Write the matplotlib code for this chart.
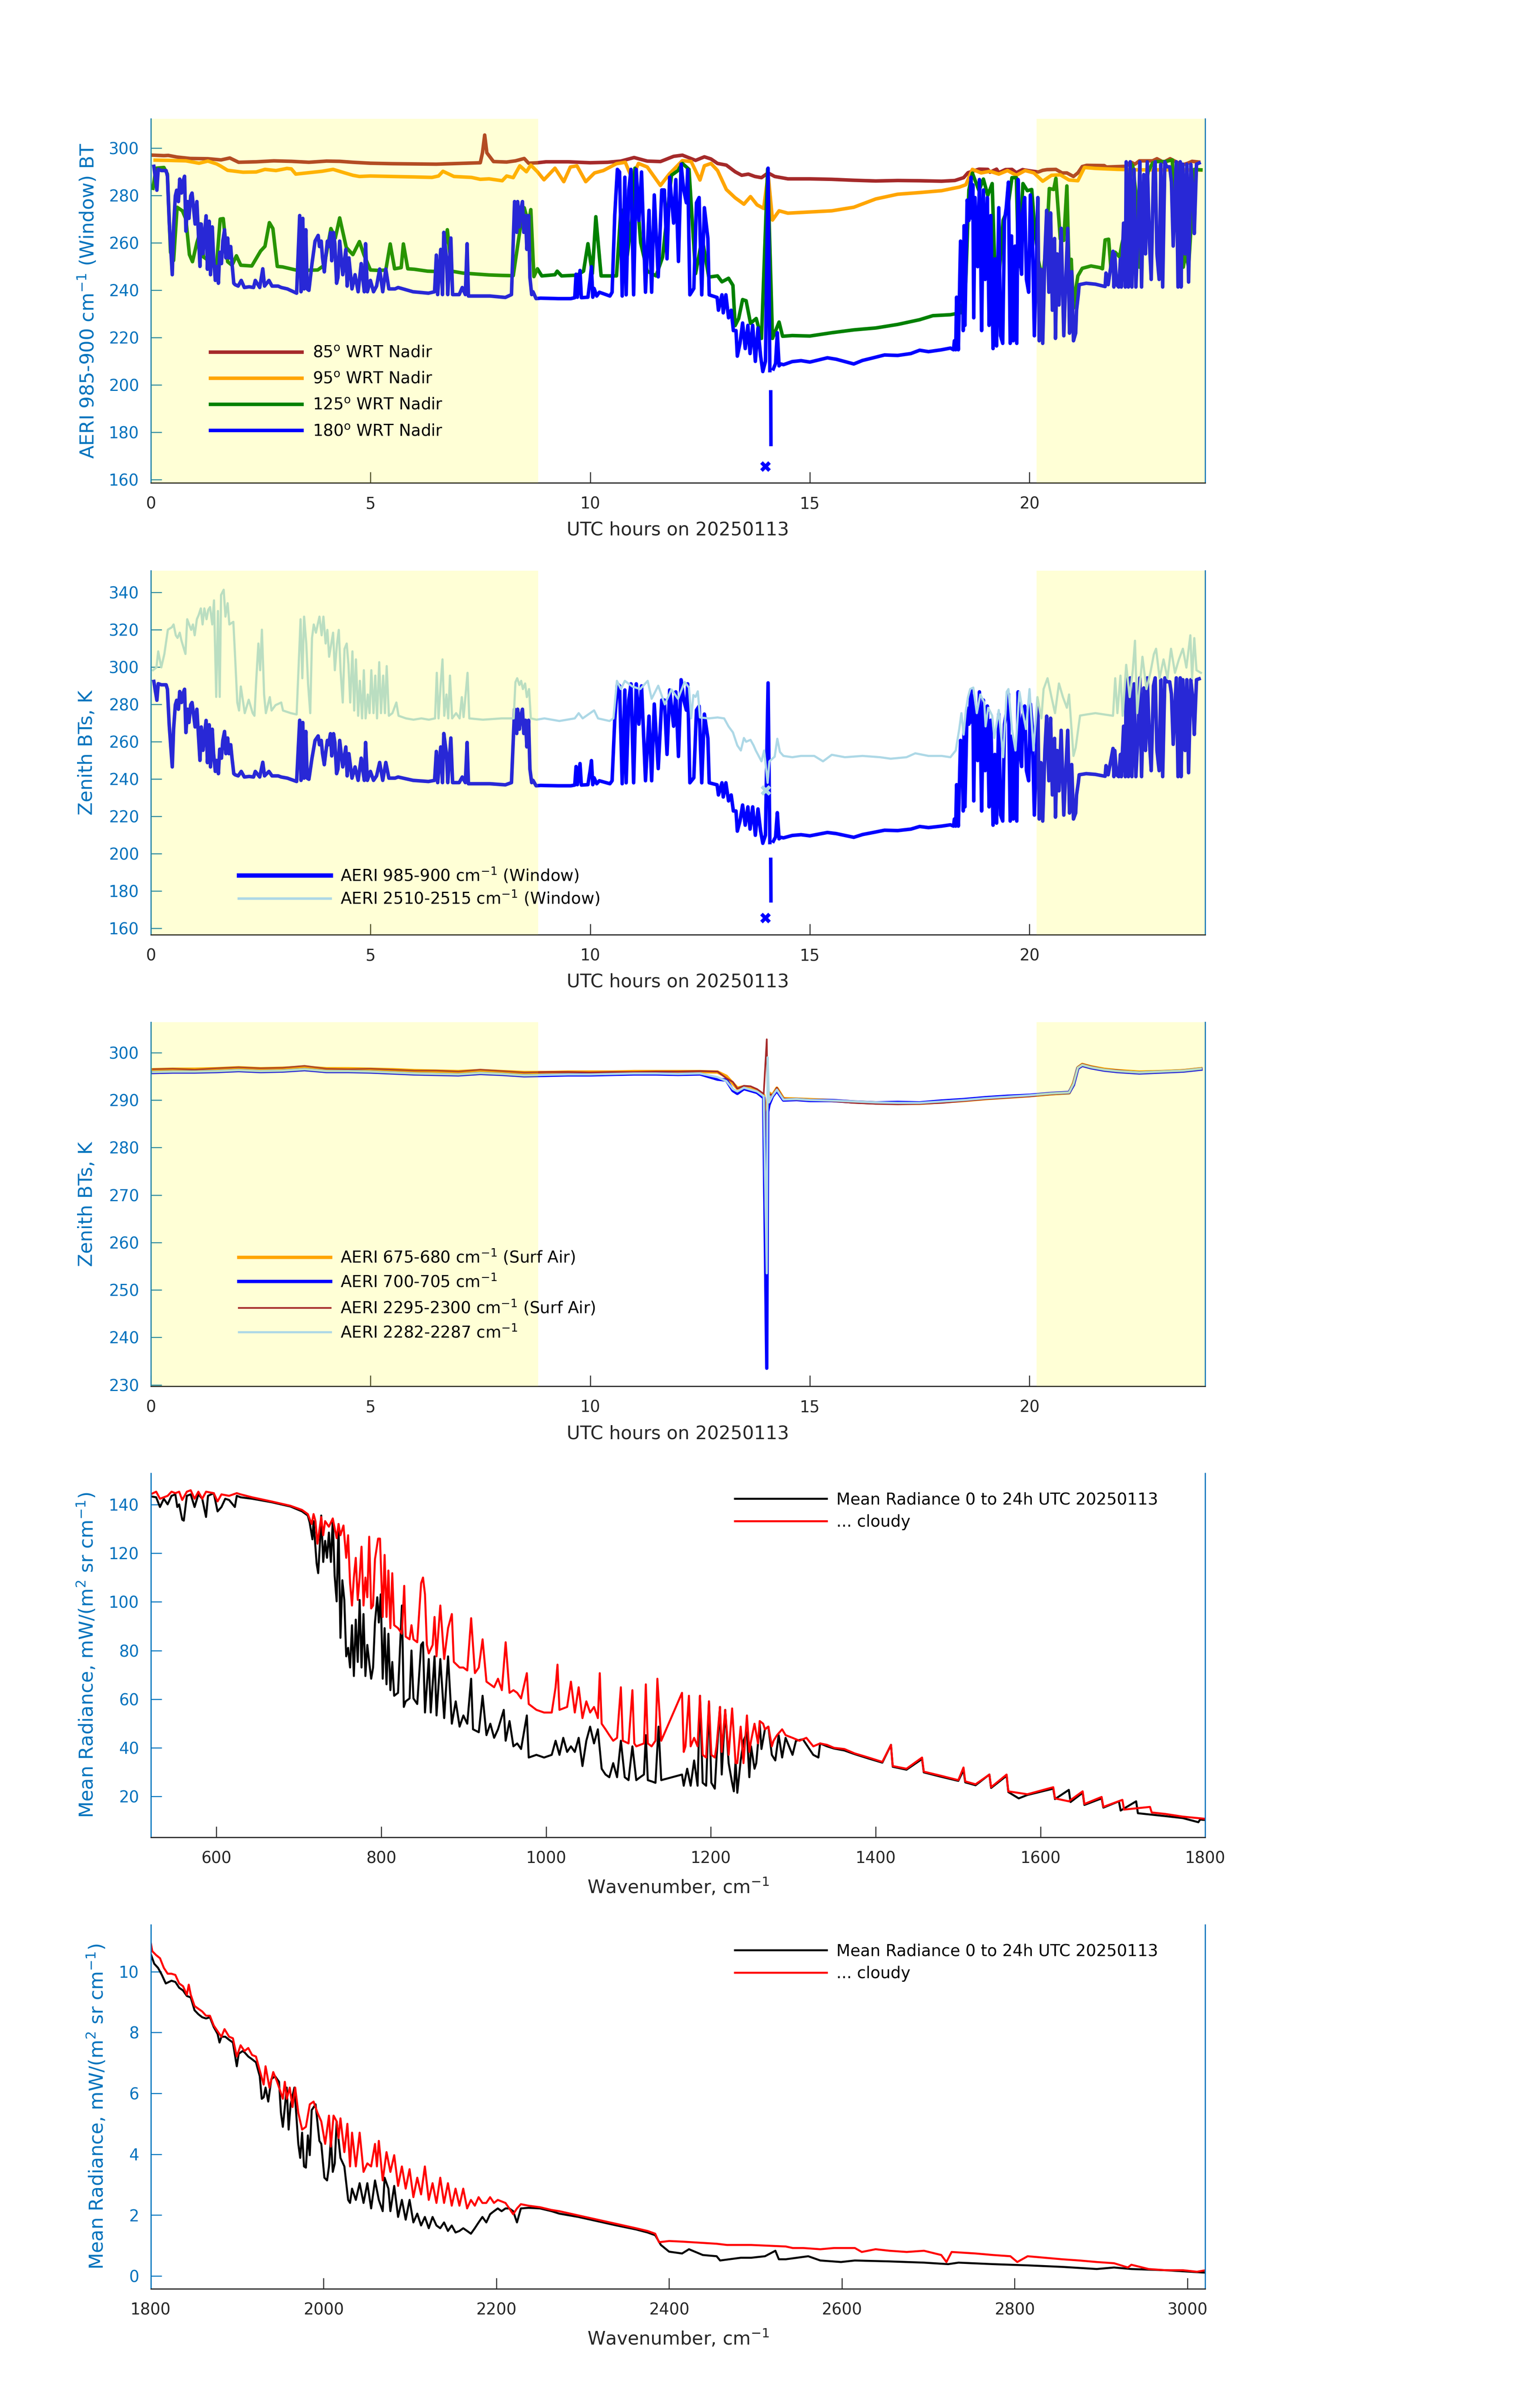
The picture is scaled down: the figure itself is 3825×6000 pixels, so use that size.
import numpy as np
import matplotlib
matplotlib.use('Agg')
import matplotlib.pyplot as plt

plt.rcParams['font.family'] = ['DejaVu Sans']
plt.rcParams['mathtext.default'] = 'regular'

nan = np.nan

# ---------------- data ----------------
# night (yellow) periods, UTC hours
night_spans = [(0.0, 8.82), (20.16, 24.0)]

# panel 1 : window BT at four scene angles (hour, K)
bt85 = [(0.05,297.0),(0.3,296.8),(0.4,296.9),(0.6,296.2),(0.9,295.6),(1.3,295.5),(1.6,295.0),(1.8,295.8),
        (2.0,294.0),(2.4,294.2),(2.8,294.6),(3.2,294.4),(3.6,294.0),(4.0,294.5),(4.3,294.4),(4.6,294.0),
        (5.0,293.6),(5.5,293.4),(6.0,293.3),(6.5,293.2),(7.0,293.5),(7.5,293.8),(7.55,298.0),(7.6,305.5),
        (7.65,298.0),(7.8,294.3),(8.1,294.1),(8.3,294.6),(8.5,295.6),(8.6,293.6),(8.8,293.8),(9.0,294.2),
        (9.5,294.2),(10.0,293.8),(10.4,294.0),(10.7,294.5),(11.0,296.0),(11.3,294.5),(11.6,294.3),(11.9,296.5),
        (12.1,297.0),(12.4,294.8),(12.6,296.3),(12.75,295.4),(12.9,293.5),(13.1,292.8),(13.3,290.0),(13.45,288.5),
        (13.6,289.0),(13.75,288.0),(13.9,287.5),(14.05,289.5),(14.2,288.0),(14.5,287.0),(15.0,287.0),(15.5,286.8),
        (16.0,286.4),(16.5,286.1),(17.0,286.3),(17.5,286.2),(18.0,286.0),(18.3,286.3),(18.5,287.5),(18.6,289.6),
        (18.85,291.1),(19.05,291.0),(19.1,289.8),(19.25,291.1),(19.3,289.6),(19.45,290.9),(19.6,291.0),(19.7,289.6),
        (19.84,290.9),(20.0,290.4),(20.2,289.9),(20.3,290.6),(20.4,290.9),(20.6,291.0),(20.74,289.5),(20.85,289.5),
        (21.0,288.0),(21.1,289.5),(21.2,292.2),(21.3,292.7),(21.7,292.6),(21.75,292.0),(22.2,292.3),(22.3,294.1),
        (22.4,293.2),(22.5,294.6),(22.8,294.6),(22.9,295.5),(23.05,294.0),(23.2,295.5),(23.4,293.6),(23.5,293.0),
        (23.6,293.6),(23.7,294.4),(23.85,294.1)]

bt95 = [(0.1,294.9),(0.4,294.8),(0.8,294.6),(1.1,293.6),(1.3,294.5),(1.5,293.3),(1.6,292.3),(1.75,290.6),
        (2.1,289.8),(2.4,289.9),(2.6,291.0),(2.85,290.5),(3.1,291.4),(3.2,291.2),(3.3,289.0),(3.5,289.4),
        (3.9,290.2),(4.15,291.0),(4.4,289.6),(4.6,288.5),(4.75,288.0),(5.0,288.2),(5.5,288.0),(6.0,287.8),
        (6.4,287.6),(6.55,288.2),(6.65,290.2),(6.9,288.0),(7.3,287.6),(7.5,286.8),(7.7,287.0),(8.0,286.2),
        (8.1,288.2),(8.25,287.5),(8.4,292.5),(8.55,290.0),(8.65,292.8),(8.8,290.0),(8.95,286.6),(9.2,291.5),
        (9.4,285.8),(9.55,292.0),(9.7,292.5),(9.9,285.8),(10.1,289.5),(10.3,290.5),(10.6,293.4),(10.8,294.0),
        (10.95,287.3),(11.1,293.5),(11.3,292.0),(11.6,284.2),(11.8,289.0),(12.1,294.7),(12.3,294.3),(12.5,286.5),
        (12.6,292.5),(12.75,293.5),(12.9,290.5),(13.1,282.5),(13.3,279.0),(13.5,276.3),(13.65,279.5),(13.8,276.0),
        (13.95,274.5),(14.05,289.0),(14.15,269.6),(14.3,273.5),(14.5,272.5),(15.0,273.0),(15.5,273.5),(16.0,275.0),
        (16.5,278.5),(17.0,280.5),(17.5,281.2),(18.0,282.0),(18.4,283.5),(18.55,284.5),(18.7,291.0),(18.9,289.5),
        (19.1,290.2),(19.3,289.0),(19.5,290.5),(19.7,288.5),(19.9,290.5),(20.1,289.5),(20.3,286.0),(20.5,288.5),
        (20.7,288.7),(20.9,286.5),(21.1,286.2),(21.25,291.8),(21.5,291.4),(22.0,291.0),(22.5,290.8),(23.0,290.8),
        (23.5,290.8),(23.9,290.7)]

bt125 = [(0.05,283.0),(0.12,291.5),(0.3,291.8),(0.38,289.0),(0.45,256.0),(0.52,252.5),(0.6,275.0),(0.72,273.5),
         (0.8,270.0),(0.88,255.0),(0.95,252.0),(1.05,260.0),(1.1,263.0),(1.13,268.0),(1.2,254.0),(1.35,252.0),
         (1.5,251.0),(1.58,270.0),(1.65,270.2),(1.75,252.0),(1.85,250.5),(1.95,254.5),(2.05,250.5),(2.3,250.2),
         (2.5,256.5),(2.6,258.5),(2.7,268.5),(2.78,266.0),(2.88,250.0),(3.0,249.8),(3.3,248.5),(3.6,248.4),
         (3.8,248.5),(3.95,250.5),(4.1,266.0),(4.2,262.0),(4.3,270.5),(4.45,258.0),(4.6,255.0),(4.75,260.5),
         (4.85,255.0),(5.0,248.5),(5.2,248.3),(5.35,248.5),(5.45,259.5),(5.55,249.0),(5.7,249.5),(5.75,259.5),
         (5.85,249.0),(6.0,248.8),(6.3,248.0),(6.6,247.8),(6.75,265.5),(6.85,248.0),(7.1,247.2),(7.4,246.8),
         (7.7,246.4),(8.0,246.2),(8.25,246.1),(8.4,265.0),(8.5,274.8),(8.6,268.0),(8.65,274.0),(8.72,245.7),
         (8.8,249.0),(8.9,246.0),(9.2,246.5),(9.25,248.0),(9.35,246.0),(9.7,246.3),(9.85,248.0),(9.95,259.6),
         (10.05,247.0),(10.13,271.0),(10.25,246.0),(10.6,246.0),(10.7,274.0),(10.8,248.0),(10.95,270.0),(11.02,291.5),
         (11.15,260.0),(11.3,248.0),(11.5,246.0),(11.65,254.0),(11.85,288.5),(12.0,290.5),(12.1,293.5),(12.25,291.0),
         (12.4,247.0),(12.55,262.0),(12.7,245.5),(12.9,246.0),(13.0,243.5),(13.15,245.0),(13.25,242.0),(13.3,225.0),
         (13.38,228.0),(13.47,236.0),(13.55,235.5),(13.65,226.0),(13.78,228.0),(13.9,219.6),(14.04,291.2),(14.15,219.6),
         (14.3,226.5),(14.38,220.5),(14.6,220.8),(15.0,220.6),(15.5,222.0),(16.0,223.2),(16.5,224.0),(17.0,225.5),
         (17.5,227.5),(17.8,229.2),(18.2,229.6),(18.45,230.5),(18.55,244.0),(18.62,282.3),(18.7,289.4),(18.85,282.0),
         (18.95,286.9),(19.05,280.0),(19.15,285.0),(19.2,255.0),(19.25,245.0),(19.3,244.0),(19.4,269.6),(19.5,274.0),
         (19.6,287.5),(19.7,287.5),(19.75,250.0),(19.85,285.0),(19.95,282.0),(20.05,282.5),(20.12,265.8),(20.2,252.7),
         (20.3,244.1),(20.4,264.0),(20.45,282.9),(20.55,282.5),(20.6,287.2),(20.7,261.6),(20.78,261.0),(20.85,284.0),
         (20.9,249.0),(20.95,253.0),(21.0,232.4),(21.05,240.0),(21.1,246.0),(21.2,249.2),(21.4,250.2),(21.6,249.5),
         (21.66,249.0),(21.72,261.2),(21.8,261.5),(21.85,249.7),(21.95,256.0),(22.05,254.0),(22.1,259.3),(22.2,267.0),
         (22.3,293.7),(22.35,292.5),(22.45,276.0),(22.5,249.7),(22.6,276.0),(22.7,290.0),(22.8,293.7),(22.9,294.3),
         (23.1,294.3),(23.25,295.0),(23.3,268.0),(23.35,293.0),(23.4,284.0),(23.5,249.7),(23.55,256.0),(23.62,249.7),
         (23.68,268.0),(23.75,291.0),(23.9,290.8)]

bt180 = [(0.07,292.3),(0.14,282.2),(0.17,291.1),(0.24,290.5),(0.35,290.5),(0.38,288.1),(0.42,269.1),(0.49,246.5),
         (0.52,266.7),(0.56,279.8),(0.59,282.2),(0.63,277.4),(0.66,286.9),(0.70,281.0),(0.73,285.7),(0.77,288.1),
         (0.80,264.9),(0.84,277.4),(0.87,270.3),(0.91,279.8),(0.94,281.0),(1.01,267.9),(1.05,277.4),(1.08,265.5),
         (1.12,250.0),(1.15,267.9),(1.19,255.4),(1.22,263.1),(1.26,271.4),(1.29,248.8),(1.33,269.1),(1.36,246.5),
         (1.40,266.7),(1.43,253.6),(1.47,244.1),(1.50,250.0),(1.54,242.9),(1.57,256.0),(1.61,251.2),(1.64,260.7),
         (1.68,265.5),(1.71,253.6),(1.75,262.0),(1.78,253.6),(1.82,258.4),(1.85,251.2),(1.89,242.9),(1.92,242.3),
         (1.99,241.7),(2.06,244.1),(2.13,241.1),(2.24,241.4),(2.34,241.1),(2.38,244.1),(2.48,241.1),(2.55,249.0),
         (2.59,241.7),(2.69,244.1),(2.76,241.7),(2.90,241.7),(2.97,241.1),(3.11,240.5),(3.32,238.7),(3.39,271.5),
         (3.42,239.3),(3.46,270.3),(3.49,240.5),(3.53,265.5),(3.56,240.5),(3.60,239.9),(3.67,251.2),(3.74,260.7),
         (3.81,263.1),(3.84,258.4),(3.88,260.7),(3.91,253.6),(3.95,247.7),(3.98,253.6),(4.02,260.7),(4.05,258.4),
         (4.09,264.3),(4.12,252.4),(4.16,264.3),(4.19,259.6),(4.23,242.9),(4.26,245.3),(4.30,260.7),(4.37,246.5),
         (4.44,257.2),(4.47,241.7),(4.51,253.6),(4.58,240.5),(4.65,246.5),(4.72,239.3),(4.79,251.2),(4.82,245.9),
         (4.86,239.3),(4.89,259.6),(4.93,239.3),(5.00,244.1),(5.07,239.3),(5.14,241.7),(5.21,248.9),(5.28,239.3),
         (5.35,248.9),(5.42,240.5),(5.56,240.5),(5.63,241.1),(5.97,239.3),(6.32,238.7),(6.46,239.3),(6.50,254.8),
         (6.53,238.1),(6.60,257.2),(6.64,238.1),(6.67,264.4),(6.73,253.6),(6.76,238.1),(6.83,262.0),(6.87,238.1),
         (7.02,238.1),(7.09,241.1),(7.16,238.1),(7.20,259.6),(7.23,237.5),(7.72,237.5),(8.07,236.9),(8.21,238.1),
         (8.28,277.4),(8.33,264.4),(8.35,277.4),(8.39,266.7),(8.42,273.9),(8.46,277.4),(8.49,264.4),(8.53,271.5),
         (8.56,257.2),(8.60,271.5),(8.63,245.3),(8.67,238.1),(8.70,239.3),(8.77,236.4),(8.87,236.6),(9.27,236.4),
         (9.56,236.4),(9.65,236.8),(9.68,246.7),(9.71,237.0),(9.77,248.3),(9.80,236.8),(9.95,237.0),(10.00,244.5),
         (10.03,249.9),(10.06,237.0),(10.09,240.7),(10.15,237.5),(10.21,239.1),(10.45,237.5),(10.50,239.1),(10.56,271.5),
         (10.62,291.0),(10.67,289.9),(10.73,237.5),(10.79,287.7),(10.82,238.0),(10.88,282.3),(10.93,291.0),(10.99,238.0),
         (11.05,291.0),(11.11,269.4),(11.17,289.9),(11.26,239.1),(11.34,273.7),(11.40,239.1),(11.46,280.2),(11.55,245.6),
         (11.63,282.3),(11.69,282.3),(11.75,253.2),(11.81,287.7),(11.90,268.3),(11.95,286.7),(12.01,252.1),(12.07,293.2),
         (12.13,282.3),(12.19,276.9),(12.22,291.0),(12.27,238.0),(12.36,240.7),(12.42,276.9),(12.48,279.1),(12.54,238.0),
         (12.60,274.8),(12.68,261.8),(12.71,238.0),(12.89,236.9),(12.92,231.5),(13.00,238.0),(13.03,230.4),(13.09,238.0),
         (13.15,228.3),(13.21,231.5),(13.26,222.9),(13.32,222.9),(13.35,212.1),(13.41,217.5),(13.47,226.1),(13.53,215.3),
         (13.59,225.1),(13.64,213.2),(13.70,225.1),(13.76,209.9),(13.82,224.0),(13.88,212.1),(13.93,205.6),(13.99,209.9),
         (14.05,291.5),(14.09,206.0),(14.10,nan),(14.11,197.0),(14.115,174.8),(14.12,nan),(14.17,206.7),(14.22,209.0),
         (14.26,222.0),(14.30,208.0),(14.34,208.8),(14.4,208.5),(14.6,209.8),(14.8,210.2),(15.0,209.6),(15.2,210.5),
         (15.4,211.4),(15.6,210.8),(15.8,209.8),(16.0,208.8),(16.2,210.3),(16.4,211.2),(16.7,212.6),(17.0,212.4),
         (17.3,213.2),(17.5,214.6),(17.7,214.0),(18.0,214.8),(18.2,215.5),(18.27,214.8),(18.29,218.6),(18.32,214.8),
         (18.34,237.0),(18.38,214.8),(18.43,260.7),(18.47,259.6),(18.49,222.9),(18.51,267.2),(18.53,225.1),(18.58,278.0),
         (18.62,269.4),(18.67,287.7),(18.69,270.4),(18.71,284.5),(18.73,228.3),(18.76,279.1),(18.82,249.9),(18.86,286.7),
         (18.88,266.1),(18.91,222.9),(18.95,282.3),(18.99,244.5),(19.04,279.1),(19.08,225.1),(19.12,271.5),(19.17,215.3),
         (19.21,253.2),(19.25,216.4),(19.30,274.8),(19.34,220.7),(19.39,217.5),(19.43,269.4),(19.47,274.8),(19.52,285.6),
         (19.56,217.5),(19.59,262.9),(19.63,218.6),(19.67,258.6),(19.71,217.5),(19.74,286.7),(19.78,255.3),(19.82,246.7),
         (19.84,272.6),(19.89,279.1),(19.93,244.5),(19.98,239.1),(20.02,280.2),(20.06,268.3),(20.11,220.7),(20.15,246.7),
         (20.19,279.1),(20.22,218.6),(20.26,248.8),(20.30,217.5),(20.35,255.3),(20.39,273.7),(20.44,239.1),(20.48,272.6),
         (20.52,231.5),(20.57,261.8),(20.59,219.6),(20.63,255.3),(20.67,233.7),(20.72,266.1),(20.78,220.7),(20.83,246.7),
         (20.87,266.1),(20.91,221.8),(20.96,247.8),(21.00,218.6),(21.05,221.8),(21.07,231.5),(21.11,238.0),(21.13,242.3),
         (21.29,242.9),(21.50,242.5),(21.72,241.5),(21.74,247.2),(21.79,242.3),(21.90,256.4),(21.92,241.3),(21.94,255.3),
         (21.98,242.3),(22.03,241.3),(22.07,253.2),(22.09,241.3),(22.14,268.3),(22.18,241.3),(22.20,294.2),(22.25,241.3),
         (22.29,294.2),(22.33,241.3),(22.38,291.0),(22.42,241.3),(22.47,263.9),(22.51,294.2),(22.55,241.3),(22.60,288.8),
         (22.64,255.3),(22.68,294.2),(22.73,259.6),(22.77,244.5),(22.82,289.9),(22.86,294.2),(22.90,255.3),(22.95,244.5),
         (22.99,293.2),(23.03,241.3),(23.08,294.2),(23.12,292.1),(23.19,292.1),(23.23,285.6),(23.27,258.6),(23.34,294.2),
         (23.38,241.3),(23.43,294.2),(23.45,241.3),(23.49,293.2),(23.54,255.3),(23.58,293.2),(23.62,243.4),(23.67,293.2),
         (23.71,284.5),(23.75,263.9),(23.80,293.2),(23.86,293.7)]

# isolated points near 14 UTC (hour, K)
bad_180 = (13.99, 165.6)
bad_2510 = (14.0, 234.0)

# panel 2 : 2510-2515 cm-1 window BT (hour, K)
bt2510 = [(0.05,298.3),(0.13,299.8),(0.17,308.4),(0.24,299.8),(0.31,307.0),(0.39,320.0),(0.48,321.3),(0.52,322.8),
          (0.57,317.0),(0.61,315.6),(0.66,318.4),(0.70,314.1),(0.79,307.0),(0.83,325.6),(0.92,319.9),(0.96,322.8),
          (1.00,317.0),(1.05,325.6),(1.09,327.8),(1.14,331.4),(1.18,322.8),(1.22,331.4),(1.27,325.6),(1.31,330.7),
          (1.35,332.1),(1.40,322.8),(1.44,335.7),(1.49,284.0),(1.53,330.0),(1.57,284.0),(1.60,338.6),(1.66,341.4),
          (1.70,327.0),(1.75,334.2),(1.79,322.8),(1.88,324.2),(1.92,305.5),(1.97,281.0),(2.01,276.7),(2.05,289.6),
          (2.14,275.3),(2.23,282.5),(2.32,275.3),(2.36,273.9),(2.40,292.6),(2.45,312.6),(2.49,298.3),(2.53,320.0),
          (2.58,285.3),(2.62,275.3),(2.71,283.9),(2.75,276.7),(2.84,279.6),(2.97,281.0),(3.01,276.7),(3.19,275.3),
          (3.32,274.6),(3.41,325.6),(3.45,294.0),(3.49,327.0),(3.54,312.6),(3.58,291.2),(3.63,275.3),(3.67,315.5),
          (3.71,322.8),(3.76,318.4),(3.80,322.8),(3.84,327.0),(3.89,317.0),(3.93,327.0),(3.98,312.6),(4.02,319.9),
          (4.06,305.5),(4.11,312.6),(4.15,318.4),(4.19,298.3),(4.24,312.6),(4.28,319.9),(4.32,298.3),(4.37,281.0),
          (4.41,309.7),(4.46,312.6),(4.50,301.2),(4.54,281.0),(4.59,308.4),(4.63,276.7),(4.67,304.1),(4.72,273.9),
          (4.76,292.6),(4.81,272.5),(4.85,298.3),(4.89,272.5),(4.94,285.3),(4.98,275.3),(5.02,298.3),(5.07,275.3),
          (5.11,295.4),(5.15,272.5),(5.20,302.6),(5.24,275.3),(5.29,295.4),(5.33,275.3),(5.37,300.5),(5.42,273.9),
          (5.50,275.3),(5.59,281.0),(5.64,273.9),(5.81,272.5),(5.98,271.8),(6.16,272.5),(6.33,271.8),(6.47,272.5),
          (6.51,296.9),(6.55,272.5),(6.60,291.2),(6.64,304.1),(6.68,273.9),(6.73,285.3),(6.77,272.5),(6.81,295.4),
          (6.86,272.5),(6.95,275.3),(7.03,272.5),(7.08,283.9),(7.12,273.2),(7.21,296.9),(7.25,272.5),(7.56,271.8),
          (7.99,272.5),(8.26,272.5),(8.30,291.9),(8.34,294.0),(8.39,290.4),(8.43,292.6),(8.47,288.2),(8.52,291.2),
          (8.56,283.9),(8.61,288.2),(8.65,272.5),(8.78,271.8),(8.96,272.5),(9.30,271.1),(9.65,272.5),(9.74,275.3),
          (9.83,272.5),(10.00,275.3),(10.09,276.8),(10.18,272.5),(10.44,271.1),(10.53,272.5),(10.61,292.6),(10.70,288.2),
          (10.79,292.6),(10.96,289.6),(11.14,288.2),(11.31,292.6),(11.40,283.0),(11.55,290.0),(11.70,280.0),(11.85,288.0),
          (12.00,283.0),(12.15,292.0),(12.25,289.0),(12.30,272.5),(12.35,285.0),(12.40,284.0),(12.45,287.0),(12.50,273.0),
          (12.70,272.5),(12.90,273.0),(13.05,272.5),(13.15,268.2),(13.25,265.0),(13.35,258.0),(13.43,255.3),(13.50,262.0),
          (13.55,260.0),(13.65,261.0),(13.72,258.0),(13.77,255.3),(13.90,249.5),(13.96,255.3),(14.04,238.0),(14.08,249.5),
          (14.20,252.0),(14.26,261.6),(14.32,254.5),(14.40,252.4),(14.60,251.7),(14.80,252.4),(15.10,252.4),(15.30,249.5),
          (15.50,253.0),(15.80,251.7),(16.20,252.4),(16.60,251.7),(16.84,250.9),(17.20,251.7),(17.40,253.8),(17.70,252.4),
          (18.00,252.4),(18.20,251.7),(18.32,255.3),(18.40,266.7),(18.45,275.3),(18.50,263.8),(18.55,276.7),(18.60,283.9),
          (18.65,288.2),(18.72,289.0),(18.80,275.3),(18.88,285.3),(18.97,281.0),(19.00,268.2),(19.06,278.2),(19.15,274.0),
          (19.20,262.0),(19.30,277.0),(19.40,251.7),(19.48,286.7),(19.52,288.2),(19.60,266.8),(19.68,255.3),(19.77,286.7),
          (19.85,275.3),(19.92,266.8),(20.00,288.2),(20.09,255.3),(20.18,283.9),(20.27,272.5),(20.32,288.2),(20.41,294.0),
          (20.50,283.9),(20.58,275.3),(20.67,291.2),(20.76,283.9),(20.85,278.2),(20.90,285.3),(21.00,252.4),(21.05,256.7),
          (21.15,274.0),(21.30,274.6),(21.50,275.3),(21.70,274.6),(21.90,273.9),(21.95,294.0),(22.00,275.3),(22.07,295.4),
          (22.12,273.9),(22.20,301.2),(22.28,283.9),(22.35,298.3),(22.40,314.1),(22.45,275.3),(22.53,295.4),(22.57,305.5),
          (22.66,288.2),(22.75,296.9),(22.83,306.9),(22.88,309.8),(22.96,294.0),(23.05,304.1),(23.14,294.0),(23.22,309.8),
          (23.31,296.9),(23.40,304.1),(23.49,309.8),(23.57,299.7),(23.66,317.0),(23.70,294.0),(23.75,315.5),(23.80,298.3),
          (23.90,296.9)]

# panel 3 : surface-air channels (hour, K)
t_surf = [0.05, 0.5, 1.0, 1.5, 2.0, 2.5, 3.0, 3.5, 4.0, 4.5,
          5.0, 5.5, 6.0, 6.5, 7.0, 7.5, 8.0, 8.5, 9.0, 9.5,
          10.0, 10.5, 11.0, 11.5, 12.0, 12.5, 12.9, 13.1, 13.25, 13.35,
          13.5, 13.65, 13.8, 13.95, 14.02, 14.04, 14.07, 14.15, 14.25, 14.4,
          14.7, 15.0, 15.5, 16.0, 16.5, 17.0, 17.5, 18.0, 18.5, 19.0,
          19.5, 20.0, 20.5, 20.9, 21.0, 21.1, 21.2, 21.4, 21.7, 22.0,
          22.5, 23.0, 23.5, 23.9]
bt675 = [296.4, 296.5, 296.5, 296.6, 296.8, 296.6, 296.7, 296.9, 296.6, 296.6,
         296.5, 296.4, 296.2, 296.1, 296.0, 296.2, 296.0, 295.8, 295.8, 295.9,
         295.9, 295.9, 296.0, 296.0, 296.0, 296.0, 295.9, 295.0, 293.5, 292.5,
         292.8, 292.3, 292.0, 291.0, 282.5, 290.0, 291.5, 291.0, 292.5, 290.3,
         290.2, 290.1, 289.9, 289.6, 289.4, 289.3, 289.3, 289.6, 289.9, 290.3,
         290.6, 290.9, 291.3, 291.5, 293.5, 296.8, 297.5, 297.0, 296.5, 296.2,
         295.9, 296.0, 296.2, 296.6]
bt700 = [295.8, 295.9, 295.9, 296.0, 296.2, 296.0, 296.1, 296.4, 296.0, 296.0,
         295.9, 295.7, 295.5, 295.4, 295.3, 295.6, 295.4, 295.1, 295.2, 295.3,
         295.3, 295.4, 295.5, 295.5, 295.4, 295.5, 294.4, 294.2, 292.0, 291.4,
         292.4, 292.0, 291.6, 290.5, 233.5, 287.5, 289.0, 290.8, 292.0, 290.0,
         290.1, 289.9, 289.9, 289.6, 289.4, 289.5, 289.4, 289.8, 290.1, 290.5,
         290.8, 291.0, 291.4, 291.6, 293.2, 296.7, 297.3, 296.8, 296.3, 296.0,
         295.7, 295.9, 296.1, 296.5]
bt2295 = [296.5, 296.6, 296.4, 296.7, 296.9, 296.7, 296.8, 297.2, 296.6, 296.5,
          296.6, 296.4, 296.2, 296.2, 296.0, 296.4, 296.1, 295.8, 295.9, 295.9,
          295.8, 295.9, 295.9, 296.0, 296.0, 296.1, 296.0, 294.6, 293.8, 292.4,
          293.0, 292.9, 292.3, 291.3, 302.8, 288.0, 291.3, 291.0, 292.6, 290.3,
          290.1, 290.0, 289.8, 289.4, 289.2, 289.1, 289.2, 289.4, 289.8, 290.2,
          290.5, 290.8, 291.2, 291.5, 293.8, 297.0, 297.6, 297.1, 296.5, 296.3,
          295.8, 296.0, 296.3, 296.7]
bt2282 = [295.9, 296.0, 296.0, 296.1, 296.3, 296.1, 296.2, 296.5, 296.1, 296.1,
          296.0, 295.8, 295.6, 295.5, 295.4, 295.7, 295.5, 295.2, 295.3, 295.4,
          295.4, 295.5, 295.6, 295.6, 295.5, 295.6, 294.8, 294.0, 292.3, 291.8,
          292.6, 292.2, 291.8, 290.8, 253.5, 299.0, 289.5, 290.9, 292.2, 290.1,
          290.2, 290.0, 289.9, 289.7, 289.5, 289.4, 289.4, 289.7, 290.0, 290.4,
          290.7, 291.0, 291.4, 291.6, 293.4, 296.8, 297.4, 296.9, 296.4, 296.1,
          295.8, 296.0, 296.2, 296.6]

# panel 4 : mean radiance 520-1800 cm-1 (wavenumber, radiance)
rad_lw_all = [(520,143.4),(526.9,143.0),(531.5,139.0),(536.2,142.4),(540.8,140.1),(545.5,143.6),(550.2,144.2),(552.5,139.0),
              (554.8,140.1),(558.5,133.8),(560.4,133.4),(564.1,143.6),(568.8,144.2),(573.5,139.0),(578.1,144.2),(582.8,142.4),
              (587.4,134.9),(589.8,143.6),(596.8,144.7),(601.4,137.2),(606.1,139.0),(610.7,142.4),(615.4,141.9),(622.4,139.0),
              (624.7,143.6),(629.4,143.0),(643.3,142.4),(666.6,141.0),(689.9,139.2),(703.9,137.2),(710.9,135.5),(713.2,132.6),
              (716.5,125.7),(717.9,133.2),(721.6,115.8),(723.5,111.8),(725.4,122.7),(727.2,135.5),(729.6,116.4),(731.9,125.1),
              (734.2,118.1),(736.5,128.5),(738.9,116.4),(741.2,133.8),(743.5,110.6),(745.9,100.2),(748.2,132.0),(750.5,85.2),
              (752.8,108.9),(755.2,100.8),(757.5,77.6),(759.8,81.1),(762.2,73.0),(764.5,90.4),(766.8,69.5),(769.1,92.7),
              (771.5,75.3),(773.8,100.8),(776.1,73.0),(778.5,95.0),(780.8,69.5),(783.1,82.3),(785.4,75.3),(787.8,68.4),
              (790.1,73.0),(792.4,91.5),(795.2,101.9),(797.1,91.5),(799.4,103.1),(801.8,68.4),(804.1,89.2),(806.4,66.1),
              (808.7,86.9),(811.1,63.7),(813.4,75.3),(815.7,61.4),(820.4,62.6),(825.1,98.5),(827.4,56.8),(829.7,59.1),
              (834.4,60.3),(836.7,80.0),(839.1,60.3),(843.7,58.0),(848.4,82.3),(850.7,83.4),(853.1,54.5),(857.7,76.5),
              (860.1,54.5),(864.7,77.6),(867.1,53.3),(871.7,76.5),(876.4,52.2),(881.1,77.6),(885.7,49.9),(890.4,59.1),
              (895.1,48.7),(899.7,53.3),(904.4,49.9),(909.1,68.4),(911.4,47.6),(918.4,46.4),(923.0,61.4),(927.7,45.2),
              (932.4,49.9),(937.0,44.1),(941.7,47.6),(948.7,55.6),(951.0,42.9),(955.7,51.0),(960.4,40.6),(965.0,41.8),
              (969.7,39.5),(974.4,48.7),(976.7,53.3),(979.0,36.0),(988.3,37.1),(997.6,36.0),(1006.9,37.1),(1011.6,42.9),
              (1016.3,37.1),(1020.9,44.1),(1025.6,38.3),(1030.2,40.6),(1034.9,38.3),(1039.6,44.1),(1044.2,32.5),(1048.9,42.9),
              (1053.5,48.7),(1058.2,41.8),(1062.9,47.6),(1067.5,31.4),(1072.2,29.0),(1076.8,27.9),(1081.5,33.7),(1086.2,27.9),
              (1090.8,42.9),(1095.5,27.9),(1100.1,26.7),(1104.8,40.6),(1109.5,26.7),(1114.2,27.9),(1118.8,29.0),(1121.1,45.2),
              (1123.5,26.7),(1128.1,26.2),(1132.8,25.6),(1136.5,48.7),(1139.8,26.7),(1165.0,29.0),(1167.1,24.4),(1171.3,31.4),
              (1175.5,24.4),(1179.7,34.8),(1183.9,24.4),(1186.8,61.4),(1190.1,25.6),(1194.3,24.4),(1197.7,59.1),(1200.6,25.6),
              (1204.8,23.2),(1206.9,36.0),(1211.1,56.8),(1213.2,29.0),(1217.4,55.6),(1221.6,33.7),(1225.8,25.6),(1227.9,22.1),
              (1230.0,34.8),(1232.1,21.5),(1236.2,34.8),(1239.6,42.9),(1243.8,46.4),(1246.7,27.9),(1248.8,40.6),(1253.0,31.4),
              (1255.1,33.7),(1259.3,49.9),(1261.4,39.5),(1265.6,47.6),(1269.8,48.7),(1274.0,37.1),(1278.2,34.8),(1282.3,45.2),
              (1286.5,36.0),(1290.7,44.1),(1299.1,37.1),(1303.3,42.9),(1311.7,43.5),(1324.3,37.1),(1330.5,36.0),(1332.6,41.8),
              (1341.0,40.6),(1349.4,39.7),(1362.0,38.9),(1374.5,37.4),(1391.3,35.6),(1408.1,33.9),(1418.6,41.2),(1420.7,32.2),
              (1437.4,31.0),(1456.3,35.4),(1458.4,29.9),(1479.3,28.1),(1500.3,26.4),(1506.6,30.8),(1508.7,25.8),(1521.2,24.6),
              (1538.0,29.0),(1540.1,23.5),(1558.9,28.5),(1561.0,21.8),(1573.6,19.2),(1584.1,20.6),(1615.5,23.2),(1617.6,18.9),
              (1634.4,22.7),(1636.5,17.7),(1651.2,21.5),(1653.3,16.5),(1674.2,19.2),(1676.3,15.4),(1695.2,18.0),(1697.3,14.2),
              (1716.1,18.0),(1718.2,13.1),(1751.7,11.9),(1772.7,11.1),(1791.6,9.4),(1793.7,10.5),(1800.0,10.3)]

rad_lw_cloudy = [(520,144.2),(526.9,145.3),(531.5,142.4),(540.8,143.6),(545.5,145.3),(550.2,144.7),(554.8,145.3),(558.5,141.9),
                 (564.1,145.3),(568.8,145.9),(573.5,142.4),(578.1,145.3),(582.8,142.4),(587.4,145.3),(596.8,144.7),(601.4,141.3),
                 (606.1,144.2),(615.4,143.6),(624.7,144.7),(629.4,144.2),(643.3,143.0),(666.6,141.3),(689.9,139.5),(703.9,137.8),
                 (710.9,136.1),(715.6,132.0),(717.9,136.1),(720.2,133.2),(722.6,123.9),(727.2,134.9),(729.6,127.4),(731.9,133.2),
                 (736.5,130.9),(741.2,134.3),(745.9,126.2),(748.2,132.0),(750.5,127.4),(754.2,131.4),(757.5,118.1),(759.8,127.4),
                 (762.2,107.7),(764.5,98.5),(766.8,110.0),(769.1,118.1),(771.5,100.8),(773.8,110.0),(776.1,122.7),(778.5,98.5),
                 (780.8,110.0),(783.1,101.9),(785.4,126.8),(787.8,97.3),(790.1,98.5),(792.4,117.5),(796.2,126.0),(798.5,126.0),
                 (801.8,93.8),(804.1,119.3),(806.4,93.8),(808.7,112.9),(811.1,89.2),(813.4,111.8),(815.7,90.4),(820.4,89.2),
                 (825.1,86.9),(827.9,106.6),(829.7,85.7),(834.4,84.6),(836.7,90.4),(839.1,84.6),(843.7,83.4),(848.4,107.7),
                 (850.7,110.0),(853.1,103.1),(855.4,82.3),(857.7,78.8),(862.4,82.3),(864.7,93.8),(867.1,77.6),(871.7,98.5),
                 (876.4,76.5),(881.1,89.2),(885.7,95.0),(888.1,75.3),(895.1,73.0),(899.7,73.0),(904.4,71.8),(909.1,93.3),
                 (913.7,70.7),(918.4,73.0),(923.0,84.6),(927.7,67.2),(937.0,64.9),(941.7,68.4),(946.4,63.7),(951.0,83.4),
                 (955.7,62.6),(960.4,63.7),(965.0,62.6),(969.7,60.3),(976.7,70.7),(979.0,58.0),(988.3,55.6),(997.6,54.5),
                 (1006.9,54.5),(1011.6,64.9),(1013.9,74.2),(1016.3,55.6),(1025.6,56.8),(1030.2,67.2),(1034.9,54.5),(1039.6,64.9),
                 (1044.2,52.2),(1048.9,59.1),(1053.5,54.5),(1058.2,56.8),(1062.9,52.2),(1065.2,70.7),(1067.5,49.9),(1072.2,47.6),
                 (1076.8,45.2),(1081.5,42.9),(1086.2,44.1),(1090.8,64.9),(1093.2,42.9),(1100.1,41.8),(1104.8,63.7),(1107.1,41.8),
                 (1109.5,40.6),(1118.8,41.8),(1121.1,66.1),(1123.5,41.8),(1128.1,40.6),(1132.8,42.9),(1135.1,68.4),(1139.8,42.9),
                 (1165.0,62.6),(1167.1,38.3),(1169.2,40.6),(1173.4,61.4),(1175.5,40.6),(1179.7,44.1),(1183.9,40.6),(1186.8,61.4),
                 (1190.1,37.1),(1194.3,36.0),(1197.7,59.1),(1200.6,37.1),(1204.8,36.0),(1206.9,40.6),(1211.1,56.8),(1213.2,38.3),
                 (1217.4,55.6),(1221.6,37.1),(1225.8,56.2),(1230.0,33.7),(1232.1,33.7),(1236.2,48.7),(1239.6,33.7),(1243.8,53.3),
                 (1246.7,38.3),(1248.8,42.9),(1253.0,49.9),(1257.2,41.8),(1259.3,51.0),(1263.5,49.9),(1265.6,47.6),(1269.8,48.7),
                 (1274.0,40.6),(1276.1,42.9),(1280.3,45.2),(1286.5,47.6),(1290.7,45.2),(1299.1,44.1),(1307.5,42.9),(1315.9,44.1),
                 (1324.3,40.6),(1332.6,41.8),(1341.0,41.2),(1349.4,40.0),(1362.0,39.5),(1374.5,37.7),(1391.3,36.0),(1408.1,34.2),
                 (1418.6,41.2),(1420.7,32.5),(1437.4,31.4),(1456.3,36.0),(1458.4,30.2),(1479.3,28.5),(1500.3,26.7),(1506.6,31.9),
                 (1508.7,26.2),(1521.2,25.0),(1538.0,29.0),(1540.1,23.8),(1558.9,29.0),(1561.0,22.1),(1584.1,20.9),(1615.5,23.8),
                 (1617.6,19.2),(1634.4,18.0),(1651.2,22.1),(1653.3,16.9),(1674.2,19.8),(1676.3,15.7),(1699.4,18.6),(1701.4,14.6),
                 (1732.9,15.7),(1735.0,13.4),(1751.7,12.8),(1772.7,11.7),(1800.0,10.8)]

# panel 5 : mean radiance 1800-3020 cm-1 (wavenumber, radiance)
rad_sw_all = [(1800,10.58),(1804.0,10.26),(1808.5,10.12),(1812.9,9.89),(1817.4,9.61),(1824.0,9.70),(1828.5,9.66),(1832.9,9.47),
              (1837.4,9.38),(1841.8,9.20),(1846.3,9.15),(1850.7,8.73),(1855.1,8.60),(1859.6,8.50),(1864.0,8.46),(1868.5,8.50),
              (1872.9,8.18),(1877.4,7.95),(1879.6,7.67),(1881.8,7.86),(1886.3,7.86),(1890.7,7.76),(1895.1,7.67),(1899.6,6.89),
              (1901.8,7.30),(1906.3,7.39),(1908.5,7.35),(1912.9,7.21),(1917.3,7.12),(1921.8,7.02),(1926.2,6.56),(1928.5,5.82),
              (1930.7,5.87),(1932.9,6.19),(1936.0,5.73),(1939.6,6.47),(1944.0,6.56),(1948.5,6.38),(1950.7,5.36),(1952.9,4.90),
              (1955.2,5.55),(1957.4,6.19),(1959.6,4.81),(1961.9,5.64),(1966.3,6.19),(1970.8,4.34),(1973.0,3.88),(1975.2,4.71),
              (1977.4,3.60),(1979.6,3.56),(1981.9,4.62),(1984.1,3.97),(1986.3,5.45),(1990.8,5.64),(1995.2,4.44),(1997.4,4.34),
              (2001.0,3.23),(2004.1,3.14),(2006.3,3.60),(2008.5,4.53),(2010.7,3.42),(2013.0,3.70),(2015.2,5.08),(2019.6,3.88),
              (2024.1,3.60),(2028.5,2.50),(2030.7,2.40),(2033.0,2.87),(2037.4,2.50),(2041.8,3.05),(2046.3,2.40),(2050.7,3.05),
              (2055.1,2.22),(2059.6,3.14),(2064.0,2.50),(2068.5,2.13),(2070.7,3.23),(2075.1,2.87),(2077.4,2.13),(2081.8,2.96),
              (2086.3,1.94),(2090.7,2.50),(2095.1,1.85),(2099.6,2.50),(2104.0,1.76),(2108.5,2.05),(2112.9,1.66),(2117.3,1.94),
              (2121.8,1.57),(2126.2,1.94),(2130.7,1.66),(2135.1,1.57),(2139.5,1.76),(2144.0,1.48),(2148.4,1.66),(2152.8,1.43),
              (2157.3,1.48),(2161.7,1.57),(2166.2,1.48),(2170.6,1.39),(2175.1,1.57),(2179.5,1.76),(2183.9,1.94),(2188.4,1.76),
              (2192.8,2.03),(2197.3,2.13),(2201.7,2.22),(2206.1,2.13),(2210.6,2.22),(2215.0,2.22),(2219.5,2.13),(2223.9,1.76),
              (2228.4,2.22),(2237.2,2.24),(2250.5,2.22),(2263.9,2.13),(2272.8,2.05),(2295.0,1.94),(2317.2,1.80),(2339.4,1.66),
              (2361.6,1.53),(2375.0,1.43),(2383.9,1.34),(2390.5,1.02),(2400,0.80),(2415,0.74),(2423,0.88),(2439,0.69),
              (2455,0.65),(2459,0.51),(2483,0.60),(2495,0.60),(2511,0.65),(2523,0.83),(2527,0.55),(2535,0.55),
              (2561,0.65),(2575,0.51),(2599,0.46),(2615,0.51),(2655,0.48),(2695,0.44),(2723,0.39),(2735,0.44),
              (2775,0.39),(2815,0.35),(2855,0.30),(2895,0.23),(2915,0.28),(2935,0.23),(2975,0.19),(3021,0.11)]

rad_sw_cloudy = [(1800,10.95),(1801.8,10.67),(1806.3,10.54),(1810.7,10.44),(1815.2,10.12),(1819.6,9.93),(1824.0,9.93),(1828.5,9.89),
                 (1832.9,9.61),(1837.4,9.52),(1841.8,9.24),(1844.0,9.57),(1846.3,9.24),(1850.7,8.87),(1855.1,8.78),(1859.6,8.69),
                 (1864.0,8.55),(1868.5,8.55),(1872.9,8.23),(1877.4,8.04),(1881.8,7.86),(1885.4,8.11),(1890.7,7.86),(1895.1,7.81),
                 (1899.6,7.21),(1904.0,7.58),(1908.5,7.39),(1912.9,7.49),(1917.3,7.26),(1921.8,7.21),(1926.2,6.75),(1930.7,6.29),
                 (1932.9,6.89),(1937.4,6.19),(1941.8,6.70),(1946.3,6.38),(1950.7,6.01),(1952.9,5.82),(1955.2,6.38),(1957.4,5.82),
                 (1960.9,6.19),(1964.1,5.55),(1967.2,6.19),(1970.8,5.36),(1975.2,4.81),(1979.6,4.90),(1984.1,5.64),(1988.5,5.73),
                 (1993.0,5.36),(1997.4,5.08),(2001.9,4.34),(2006.3,5.27),(2008.5,4.25),(2011.6,5.27),(2015.2,5.08),(2017.4,4.53),
                 (2019.6,5.18),(2024.1,4.07),(2027.6,5.00),(2030.7,3.60),(2033.0,4.71),(2037.4,3.60),(2041.8,4.71),(2046.3,3.42),
                 (2050.7,3.70),(2055.1,3.60),(2059.6,4.34),(2061.8,3.60),(2064.0,4.44),(2068.5,3.14),(2072.9,4.07),(2077.4,3.42),
                 (2081.8,3.97),(2086.3,2.96),(2090.7,3.60),(2095.1,2.87),(2099.6,3.51),(2104.0,2.59),(2108.5,3.23),(2112.9,2.68),
                 (2117.3,3.60),(2121.8,2.50),(2126.2,3.05),(2130.7,2.40),(2135.1,3.23),(2139.5,2.40),(2144.0,3.05),(2148.4,2.31),
                 (2152.8,2.87),(2157.3,2.31),(2161.7,2.87),(2166.2,2.22),(2170.6,2.50),(2175.1,2.31),(2179.5,2.59),(2183.9,2.40),
                 (2188.4,2.40),(2192.8,2.59),(2197.3,2.40),(2201.7,2.50),(2206.1,2.45),(2210.6,2.40),(2215.0,2.22),(2219.5,2.03),
                 (2223.9,2.22),(2228.4,2.36),(2237.2,2.31),(2250.5,2.26),(2263.9,2.17),(2272.8,2.13),(2295.0,1.99),(2317.2,1.85),
                 (2339.4,1.71),(2361.6,1.57),(2375.0,1.48),(2383.9,1.39),(2388.3,1.11),(2400,1.15),(2415,1.13),(2455,1.06),
                 (2467,1.02),(2495,1.02),(2535,0.97),(2543,0.92),(2555,0.92),(2575,0.88),(2591,0.92),(2615,0.92),
                 (2623,0.79),(2639,0.88),(2655,0.83),(2675,0.79),(2695,0.83),(2715,0.69),(2721,0.46),(2727,0.79),
                 (2755,0.74),(2775,0.69),(2795,0.65),(2803,0.46),(2815,0.65),(2835,0.60),(2855,0.55),(2875,0.51),
                 (2895,0.46),(2915,0.42),(2931,0.28),(2935,0.37),(2955,0.23),(2975,0.19),(2995,0.19),(3011,0.14),(3021,0.19)]

# ---------------- figure ----------------
AXCOL = '#0072BD'
XCOL = '#262626'
TICK_FS = 9.5
LEG_FS = 9.7
XLAB_FS = 11.0
YLAB_FS = 11.5

fig = plt.figure(figsize=(12.75, 20), dpi=300)
bottoms = [0.7995, 0.6118, 0.4243, 0.237, 0.0495]
axes = [fig.add_axes([0.0982, b, 0.687, 0.1512]) for b in bottoms]


def style(ax, xlim, ylim, xticks, yticks, xlabel, ylabel, xlab_y, ylab_x):
    ax.set_xlim(xlim)
    ax.set_ylim(ylim)
    ax.set_xticks(xticks)
    ax.set_yticks(yticks)
    ax.spines['top'].set_visible(False)
    for s in ['left', 'right']:
        ax.spines[s].set_color(AXCOL)
        ax.spines[s].set_linewidth(0.7)
    ax.spines['bottom'].set_color(XCOL)
    ax.spines['bottom'].set_linewidth(0.7)
    ax.tick_params(axis='y', direction='in', length=6.5, width=0.6, colors=AXCOL,
                   labelsize=TICK_FS, pad=7.0, right=False)
    ax.tick_params(axis='x', direction='in', length=6.5, width=0.6, colors=XCOL,
                   labelsize=TICK_FS, pad=8.0, top=False)
    ax.set_xlabel(xlabel, fontsize=XLAB_FS, color=XCOL)
    ax.xaxis.set_label_coords(0.5, xlab_y)
    ax.xaxis.label.set_verticalalignment('baseline')
    ax.set_ylabel(ylabel, fontsize=YLAB_FS, color=AXCOL)
    ax.yaxis.set_label_coords(ylab_x, 0.5)
    ax.yaxis.label.set_verticalalignment('center')


def nights(ax):
    for a, b in night_spans:
        ax.axvspan(a, b, color=(1, 1, 0), alpha=0.16, lw=0, zorder=4)


def xy(pairs):
    arr = np.array(pairs, dtype=float)
    return arr[:, 0], arr[:, 1]


def legend(ax, anchor, spacing, pad=0.65, hl=5.66):
    leg = ax.legend(loc='center left', bbox_to_anchor=anchor, frameon=False, fontsize=LEG_FS,
                    handlelength=hl, handletextpad=pad, labelspacing=spacing,
                    borderpad=0, borderaxespad=0)
    leg.set_zorder(6)
    return leg


hours_ticks = [0, 5, 10, 15, 20]

# ---- panel 1
ax = axes[0]
for data, col, lab in [(bt85, 'brown', '85$^{o}$ WRT Nadir'),
                       (bt95, 'orange', '95$^{o}$ WRT Nadir'),
                       (bt125, 'green', '125$^{o}$ WRT Nadir'),
                       (bt180, 'blue', '180$^{o}$ WRT Nadir')]:
    x, y = xy(data)
    ax.plot(x, y, color=col, lw=2.1, label=lab)
ax.plot([bad_180[0]], [bad_180[1]], 'x', color='blue', ms=5, mew=2.2)
nights(ax)
style(ax, (0, 24), (158.6, 312.4), hours_ticks, np.arange(160, 301, 20),
      'UTC hours on 20250113', 'AERI 985-900 cm$^{-1}$ (Window) BT', -0.144, -0.06)
legend(ax, (0.0563, 0.2486), 0.62)

# ---- panel 2
ax = axes[1]
x, y = xy(bt180)
ax.plot(x, y, color='blue', lw=2.1, label='AERI 985-900 cm$^{-1}$ (Window)')
x, y = xy(bt2510)
ax.plot(x, y, color='lightblue', lw=1.3, label='AERI 2510-2515 cm$^{-1}$ (Window)')
ax.plot([bad_180[0]], [bad_180[1]], 'x', color='blue', ms=5, mew=2.2)
ax.plot([bad_2510[0]], [bad_2510[1]], 'x', color='lightblue', ms=5, mew=2.2)
nights(ax)
style(ax, (0, 24), (156.6, 351.6), hours_ticks, np.arange(160, 341, 20),
      'UTC hours on 20250113', 'Zenith BTs, K', -0.144, -0.0605)
leg = legend(ax, (0.0834, 0.131), 0.3, pad=0.6)
for l, w in zip(leg.get_lines(), [2.6, 1.5]):
    l.set_linewidth(w)

# ---- panel 3
ax = axes[2]
ax.plot(t_surf, bt675, color='orange', lw=2.0, label='AERI 675-680 cm$^{-1}$ (Surf Air)')
ax.plot(t_surf, bt700, color='blue', lw=2.0, label='AERI 700-705 cm$^{-1}$')
ax.plot(t_surf, bt2295, color='brown', lw=1.0, label='AERI 2295-2300 cm$^{-1}$ (Surf Air)')
ax.plot(t_surf, bt2282, color='lightblue', lw=1.3, label='AERI 2282-2287 cm$^{-1}$')
nights(ax)
style(ax, (0, 24), (229.7, 306.4), hours_ticks, np.arange(230, 301, 10),
      'UTC hours on 20250113', 'Zenith BTs, K', -0.145, -0.0605)
legend(ax, (0.0834, 0.251), 0.5, pad=0.6)

# ---- panel 4
ax = axes[3]
x, y = xy(rad_lw_all)
ax.plot(x, y, color='black', lw=1.2, label='Mean Radiance 0 to 24h UTC 20250113')
x, y = xy(rad_lw_cloudy)
ax.plot(x, y, color='red', lw=1.2, label='... cloudy')
style(ax, (520.3, 1800), (3.2, 152.9), np.arange(600, 1801, 200), np.arange(20, 141, 20),
      'Wavenumber, cm$^{-1}$', 'Mean Radiance, mW/(m$^2$ sr cm$^{-1}$)', -0.154, -0.0605)
legend(ax, (0.554, 0.896), 0.38, pad=0.6)

# ---- panel 5
ax = axes[4]
x, y = xy(rad_sw_all)
ax.plot(x, y, color='black', lw=1.2, label='Mean Radiance 0 to 24h UTC 20250113')
x, y = xy(rad_sw_cloudy)
ax.plot(x, y, color='red', lw=1.2, label='... cloudy')
style(ax, (1800, 3020.6), (-0.42, 11.54), np.arange(1800, 3001, 200), np.arange(0, 11, 2),
      'Wavenumber, cm$^{-1}$', 'Mean Radiance, mW/(m$^2$ sr cm$^{-1}$)', -0.154, -0.051)
legend(ax, (0.554, 0.896), 0.38, pad=0.6)

fig.savefig('out.png', dpi=300)
